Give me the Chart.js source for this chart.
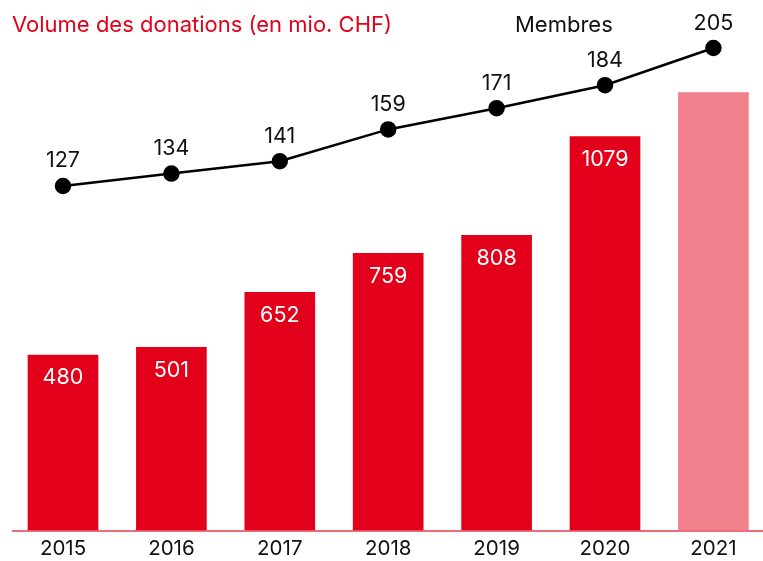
<!DOCTYPE html>
<html>
<head>
<meta charset="utf-8">
<script src="https://cdn.jsdelivr.net/npm/chart.js@4/dist/chart.umd.min.js"></script>
<style>
  html, body { margin: 0; padding: 0; background: #fff; overflow: hidden; width: 763px; height: 561px; }
  #wrap { position: relative; width: 763px; height: 561px; }
  canvas { position: absolute; left: 0; top: 0; }
  .t { position: absolute; font-family: Inter, "Noto Sans", sans-serif; font-size: 22px; white-space: nowrap; line-height: 26px; }
  #t1 { left: 12px; top: 11px; color: #e2001a; }
  #t2 { left: 515px; top: 11px; color: #111; }
</style>
</head>
<body>
<div id="wrap">
  <canvas id="c" width="763" height="561"></canvas>
  <div class="t" id="t1">Volume des donations (en mio. CHF)</div>
  <div class="t" id="t2">Membres</div>
</div>
<script>
const categories = ['2015', '2016', '2017', '2018', '2019', '2020', '2021'];
const donations = [480, 501, 652, 759, 808, 1079, 1200];
const donationLabels = ['480', '501', '652', '759', '808', '1079', ''];
const members = [127, 134, 141, 159, 171, 184, 205];
const memberLabels = ['127', '134', '141', '159', '171', '184', '205'];
const barColors = ['#e2001a', '#e2001a', '#e2001a', '#e2001a', '#e2001a', '#e2001a', '#f0808c'];

Chart.defaults.font.family = 'Inter, "Noto Sans", sans-serif';

const baselinePlugin = {
  id: 'baseline',
  beforeDatasetsDraw(chart) {
    const ctx = chart.ctx;
    const y = chart.scales.y.getPixelForValue(0) + 1;
    ctx.save();
    ctx.strokeStyle = '#ee6b7a';
    ctx.lineWidth = 2;
    ctx.beginPath();
    ctx.moveTo(12, y);
    ctx.lineTo(chart.width, y);
    ctx.stroke();
    ctx.restore();
  }
};

const labelPlugin = {
  id: 'valueLabels',
  afterDatasetsDraw(chart) {
    const ctx = chart.ctx;
    ctx.save();
    ctx.font = '21.5px Inter, "Noto Sans", sans-serif';
    ctx.textAlign = 'center';
    ctx.textBaseline = 'middle';
    const barMeta = chart.getDatasetMeta(0);
    barMeta.data.forEach((el, i) => {
      if (!donationLabels[i]) return;
      ctx.fillStyle = '#ffffff';
      ctx.fillText(donationLabels[i], el.x, el.y + 23);
    });
    const lineMeta = chart.getDatasetMeta(1);
    lineMeta.data.forEach((el, i) => {
      ctx.fillStyle = '#111111';
      ctx.fillText(memberLabels[i], el.x, el.y - 25);
    });
    ctx.restore();
  }
};

new Chart(document.getElementById('c'), {
  data: {
    labels: categories,
    datasets: [
      {
        type: 'bar',
        data: donations,
        backgroundColor: barColors,
        barThickness: 70,
        yAxisID: 'y',
        clip: false,
        order: 1
      },
      {
        type: 'line',
        data: members,
        borderColor: '#000000',
        borderWidth: 2.5,
        pointRadius: 7,
        pointBackgroundColor: '#000000',
        pointBorderColor: '#000000',
        pointHoverRadius: 7,
        tension: 0,
        yAxisID: 'y2',
        clip: false,
        order: 0
      }
    ]
  },
  options: {
    responsive: false,
    animation: false,
    layout: { padding: { top: 30, left: 63, right: 49.6, bottom: 0 } },
    plugins: { legend: { display: false }, tooltip: { enabled: false }, title: { display: false } },
    scales: {
      x: {
        offset: false,
        grid: { display: false, drawTicks: false },
        border: { display: false },
        ticks: { color: '#111', font: { size: 20.5 }, padding: 7 },
        afterFit(scale) { scale.height = 31; scale.paddingLeft = 0; scale.paddingRight = 0; }
      },
      y: { display: false, min: 0, max: 1371.4 },
      y2: { display: false, min: -67.5, max: 215.2 }
    }
  },
  plugins: [baselinePlugin, labelPlugin]
});
</script>
</body>
</html>
